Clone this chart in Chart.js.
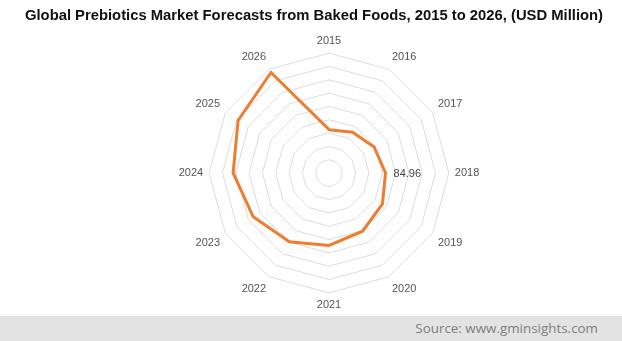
<!DOCTYPE html>
<html><head><meta charset="utf-8">
<script src="https://cdn.jsdelivr.net/npm/chart.js@4"></script>
<style>
html,body{margin:0;padding:0;background:#fff;}
#wrap{position:absolute;left:0;top:0;width:622px;height:316px;}
#title{position:absolute;left:3px;top:5px;width:622px;text-align:center;font-family:"Liberation Sans",Arial,sans-serif;font-weight:bold;font-size:14.8px;line-height:20px;color:#111;white-space:nowrap;}
#foot{position:absolute;left:0;top:316px;width:622px;height:25px;background:#e3e3e3;}
#foot span{position:absolute;right:24px;top:3px;font-family:"Open Sans",sans-serif;font-size:13.4px;color:#7f7f7f;}
</style></head>
<body>
<div id="wrap"><canvas id="c" width="622" height="316"></canvas></div>
<div id="title"></div>
<div id="foot"><span>Source: www.gminsights.com</span></div>
<script>
const categories = ["2015","2016","2017","2018","2019","2020","2021","2022","2023","2024","2025","2026"];
const values = [65.1, 70.6, 78.3, 84.96, 92.7, 100.9, 108.8, 119.2, 131.5, 144.1, 157.7, 174.4];
const labelledIndex = [3];
const titleText = "Global Prebiotics Market Forecasts from Baked Foods, 2015 to 2026, (USD Million)";
document.getElementById('title').textContent = titleText;

const valueLabel = {
  id:'valueLabel',
  afterDatasetsDraw(chart){
    const ctx = chart.ctx;
    const meta = chart.getDatasetMeta(0);
    ctx.save();
    ctx.font = '11px "Liberation Sans", Arial, sans-serif';
    ctx.fillStyle = '#444';
    ctx.textAlign = 'left';
    ctx.textBaseline = 'middle';
    labelledIndex.forEach(i=>{
      const p = meta.data[i];
      ctx.fillText(values[i].toFixed(2), p.x + 8, p.y + 1);
    });
    ctx.restore();
  }
};

new Chart(document.getElementById('c'), {
  type:'radar',
  data:{labels:categories, datasets:[{data:values, borderColor:'#ED7D31', borderWidth:3, pointRadius:0, fill:false, tension:0}]},
  options:{
    responsive:false, animation:false,
    layout:{padding:{left:36, right:0, top:34, bottom:4}},
    plugins:{legend:{display:false}, tooltip:{enabled:false}, title:{display:false}},
    scales:{r:{
      min:0, max:180,
      ticks:{stepSize:20, display:false},
      grid:{color:'#dcdcdc', lineWidth:1},
      angleLines:{display:false},
      pointLabels:{color:'#555', font:{family:'"Liberation Sans", Arial, sans-serif', size:11}, padding:6}
    }}
  },
  plugins:[valueLabel]
});
</script>
</body></html>
